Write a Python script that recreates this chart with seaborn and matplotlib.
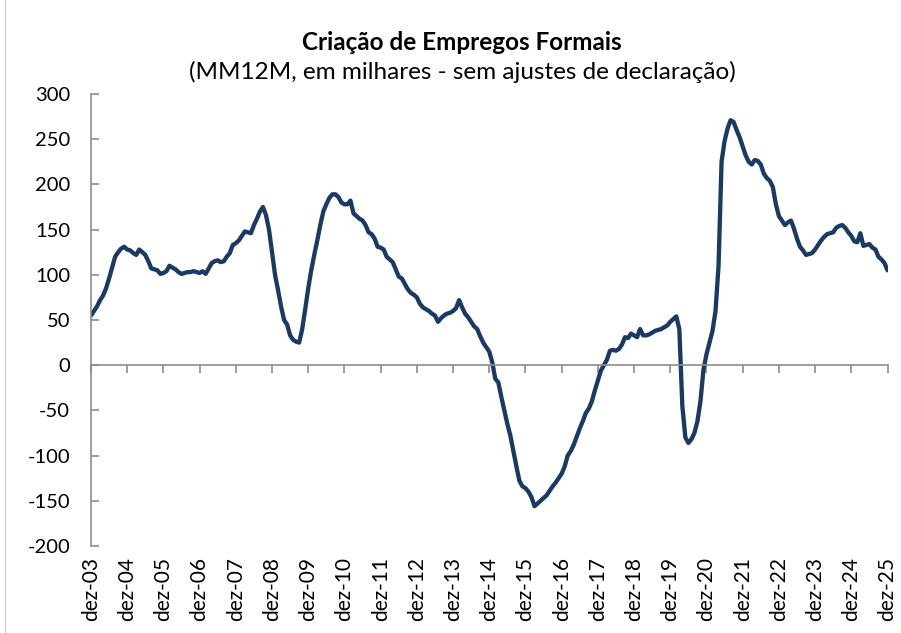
import numpy as np
import pandas as pd
import matplotlib
matplotlib.use("Agg")
import matplotlib.pyplot as plt
import matplotlib.transforms as mtransforms
from matplotlib.lines import Line2D
import seaborn as sns

# Monthly values (thousands), Dec-2003 onward, 12-month moving sum
y2004 = [55, 60, 65, 72, 77, 85, 96, 108, 120, 125, 129, 131]
y2005 = [128, 127, 124, 122, 128, 125, 122, 115, 107, 106, 105, 101]
y2006 = [102, 104, 110, 108, 106, 103, 101, 102, 103, 103, 104, 103]
y2007 = [102, 104, 101, 107, 113, 115, 116, 114, 115, 120, 124, 133]
y2008 = [135, 138, 143, 148, 147, 146, 155, 162, 170, 175, 166, 150]
y2009 = [125, 100, 83, 65, 50, 45, 33, 28, 26, 25, 40, 62]
y2010 = [85, 105, 122, 138, 155, 170, 178, 185, 189, 189, 186, 180]
y2011 = [178, 178, 182, 168, 165, 162, 160, 155, 147, 145, 140, 131]
y2012 = [130, 128, 120, 117, 114, 106, 98, 96, 90, 84, 80, 78]
y2013 = [75, 68, 64, 62, 60, 57, 55, 48, 52, 55, 57, 58]
y2014 = [60, 63, 72, 64, 57, 53, 48, 43, 40, 32, 25, 20]
y2015 = [15, 3, -15, -19, -35, -50, -65, -78, -95, -112, -128, -134]
y2016 = [-136, -140, -146, -156, -153, -150, -147, -144, -139, -134, -130, -125]
y2017 = [-120, -112, -100, -95, -88, -79, -70, -62, -53, -48, -40, -28]
y2018 = [-17, -6, 0, 6, 16, 17, 16, 18, 23, 31, 30, 35]
y2019 = [33, 31, 40, 33, 33, 34, 36, 38, 39, 40, 42, 44]
y2020 = [48, 51, 54, 40, -45, -80, -86, -82, -75, -62, -40, -5]
y2021 = [12, 25, 38, 60, 110, 225, 248, 262, 271, 269, 260, 252]
y2022 = [242, 232, 225, 222, 227, 226, 222, 212, 207, 204, 197, 178]
y2023 = [165, 160, 155, 158, 160, 151, 140, 131, 127, 122, 123, 124]
y2024 = [128, 133, 138, 142, 145, 146, 147, 152, 154, 155, 152, 147]
y2025 = [143, 137, 136, 146, 132, 133, 134, 130, 128, 120, 117, 113, 105]

values = (y2004 + y2005 + y2006 + y2007 + y2008 + y2009 + y2010 + y2011 +
          y2012 + y2013 + y2014 + y2015 + y2016 + y2017 + y2018 + y2019 +
          y2020 + y2021 + y2022 + y2023 + y2024 + y2025)
months = list(range(len(values)))

tick_labels = ["dez-03", "dez-04", "dez-05", "dez-06", "dez-07", "dez-08",
               "dez-09", "dez-10", "dez-11", "dez-12", "dez-13", "dez-14",
               "dez-15", "dez-16", "dez-17", "dez-18", "dez-19", "dez-20",
               "dez-21", "dez-22", "dez-23", "dez-24", "dez-25"]
y_ticks = [-200, -150, -100, -50, 0, 50, 100, 150, 200, 250, 300]

df = pd.DataFrame({"m": months, "v": values})

sns.set_style("white")
plt.rcParams['font.family'] = ['Lato', 'DejaVu Sans']

fig = plt.figure(figsize=(9.01, 6.33), dpi=100)
ax = fig.add_axes([91/901, 1-546/633, 796.5/901, 452/633])

sns.lineplot(data=df, x="m", y="v", ax=ax, color="#1B3A63", linewidth=3.1,
             solid_capstyle="round", solid_joinstyle="round")

ax.set_xlim(0, 264)
ax.set_ylim(-200, 300)
ax.set_xlabel("")
ax.set_ylabel("")

grey = "#8C8C8C"
for s in ["top", "right"]:
    ax.spines[s].set_visible(False)
ax.spines["left"].set_color(grey)
ax.spines["left"].set_linewidth(1.2)
ax.spines["bottom"].set_position(("data", 0))
ax.spines["bottom"].set_color(grey)
ax.spines["bottom"].set_linewidth(1.2)

xt = [12 * i for i in range(len(tick_labels))]
ax.set_xticks(xt)
ax.set_xticklabels([])
ax.tick_params(axis="x", direction="out", length=6, width=1.2, color=grey, bottom=True)
ax.set_yticks(y_ticks)
ax.set_yticklabels([str(t) for t in y_ticks])
ax.tick_params(axis="y", direction="in", length=6, width=1.2, color=grey,
               labelsize=14.5, labelcolor="#000000", pad=15, left=True)

trans = mtransforms.blended_transform_factory(ax.transData, ax.transAxes)
for xv, lab in zip(xt, tick_labels):
    ax.text(xv, -0.025, lab, transform=trans, rotation=90, ha="center", va="top",
            fontsize=15, color="#000000")

fig.text(0.513, 1-42/633, "Criação de Empregos Formais", ha="center", va="center",
         fontsize=17.5, fontweight="bold", color="#000000")
fig.text(0.513, 1-72/633, "(MM12M, em milhares - sem ajustes de declaração)",
         ha="center", va="center", fontsize=17.5, color="#000000")

fig.add_artist(Line2D([4.5/901, 4.5/901], [0, 1], transform=fig.transFigure,
                      color="#D0D0D0", linewidth=1))

fig.savefig("out.png", dpi=100)
